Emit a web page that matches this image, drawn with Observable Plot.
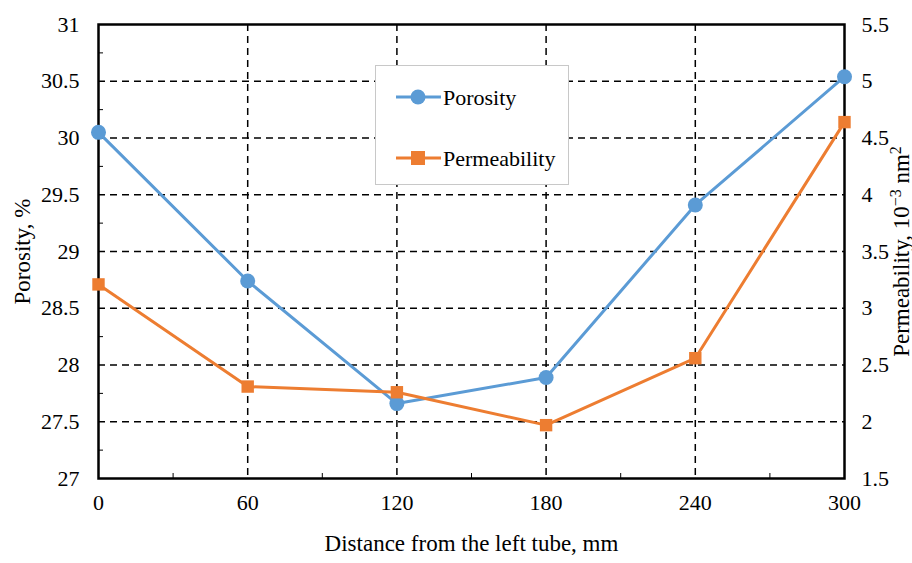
<!DOCTYPE html>
<html>
<head>
<meta charset="utf-8">
<script src="https://cdn.jsdelivr.net/npm/d3@7"></script>
<script src="https://cdn.jsdelivr.net/npm/@observablehq/plot@0.6"></script>
<style>
  html, body { margin: 0; padding: 0; background: #fff; }
  #wrap { position: relative; width: 912px; height: 563px; font-family: "Liberation Serif", "Times New Roman", serif; }
  #legend { position: absolute; left: 375px; top: 65px; width: 192px; height: 118px; border: 1.5px solid #c8c8c8; background: #fff; }
</style>
</head>
<body>
<div id="wrap"></div>
<script>
const distance = [0, 60, 120, 180, 240, 300];
const porosity = [30.05, 28.74, 27.66, 27.89, 29.41, 30.54];
const permeability = [3.21, 2.31, 2.26, 1.97, 2.56, 4.64];
const xTicks = [0, 60, 120, 180, 240, 300];
const leftTicks = [27, 27.5, 28, 28.5, 29, 29.5, 30, 30.5, 31];
const rightTicks = [1.5, 2, 2.5, 3, 3.5, 4, 4.5, 5, 5.5];
const seriesNames = ["Porosity", "Permeability"];
const colors = ["#5B9BD5", "#ED7D31"];
const xLabel = "Distance from the left tube, mm";
const yLabel = "Porosity, %";
const y2Label = "Permeability, 10⁻³ nm²";

// map permeability (right axis 1.5–5.5) onto the left axis (27–31)
const offset = leftTicks[0] - rightTicks[0];
const poroData = distance.map((d, i) => ({x: d, y: porosity[i]}));
const permData = distance.map((d, i) => ({x: d, y: permeability[i] + offset}));
const minorY = d3.range(27.25, 31, 0.5);
const minorX = d3.range(30, 300, 60);
const font = "Liberation Serif, Times New Roman, serif";

const chart = Plot.plot({
  width: 912,
  height: 563,
  marginLeft: 98,
  marginRight: 68,
  marginTop: 24,
  marginBottom: 85,
  style: {fontFamily: font, fontSize: "22px", color: "#000", background: "#fff"},
  x: {domain: [0, 300]},
  y: {domain: [27, 31]},
  marks: [
    Plot.gridY(leftTicks.slice(1, -1), {stroke: "#000", strokeOpacity: 1, strokeWidth: 1.5, strokeDasharray: "7,5"}),
    Plot.gridX(xTicks.slice(1, -1), {stroke: "#000", strokeOpacity: 1, strokeWidth: 1.5, strokeDasharray: "7,5"}),
    Plot.axisY(minorY, {anchor: "left", tickSize: -5, text: null, stroke: "#000", strokeWidth: 1, label: null}),
    Plot.axisX(minorX, {anchor: "bottom", tickSize: -5, text: null, stroke: "#000", strokeWidth: 1, label: null}),
    Plot.axisY(leftTicks, {anchor: "left", tickSize: 0, tickPadding: 19, fontSize: 22, tickFormat: d => String(d),
      label: yLabel, labelAnchor: "center", labelArrow: "none", labelOffset: 85}),
    Plot.axisY(leftTicks, {anchor: "right", tickSize: 0, tickPadding: 17, fontSize: 22, tickFormat: d => String(+(d - offset).toFixed(1)),
      label: y2Label, labelAnchor: "center", labelArrow: "none", labelOffset: 64}),
    Plot.axisX(xTicks, {anchor: "bottom", tickSize: 0, tickPadding: 16, fontSize: 22,
      label: xLabel, labelAnchor: "center", labelArrow: "none", labelOffset: 72}),
    Plot.frame({stroke: "#000", strokeWidth: 2.5}),
    Plot.line(poroData, {x: "x", y: "y", stroke: colors[0], strokeWidth: 3}),
    Plot.line(permData, {x: "x", y: "y", stroke: colors[1], strokeWidth: 3}),
    Plot.dot(poroData, {x: "x", y: "y", r: 7.5, fill: colors[0], symbol: "circle"}),
    Plot.dot(permData, {x: "x", y: "y", r: 7, fill: colors[1], symbol: "square"})
  ]
});

// label sizes and superscripts
chart.querySelectorAll("text").forEach(t => {
  const s = t.textContent;
  if (s === xLabel || s === yLabel || s === y2Label) t.setAttribute("font-size", 23);
  if (s === y2Label) {
    t.textContent = "";
    const parts = [["Permeability, 10", false], ["−3", true], [" nm", false], ["2", true]];
    for (const [p, sup] of parts) {
      const ts = document.createElementNS("http://www.w3.org/2000/svg", "tspan");
      ts.textContent = p;
      if (sup) { ts.setAttribute("baseline-shift", "super"); ts.setAttribute("font-size", "16"); }
      t.appendChild(ts);
    }
  }
});

const wrap = document.getElementById("wrap");
wrap.appendChild(chart);

// legend
const legend = document.createElement("div");
legend.id = "legend";
const ns = "http://www.w3.org/2000/svg";
const lsvg = document.createElementNS(ns, "svg");
lsvg.setAttribute("width", 192);
lsvg.setAttribute("height", 118);
seriesNames.forEach((name, i) => {
  const cy = 31 + i * 61;
  const line = document.createElementNS(ns, "line");
  line.setAttribute("x1", 20); line.setAttribute("x2", 65);
  line.setAttribute("y1", cy); line.setAttribute("y2", cy);
  line.setAttribute("stroke", colors[i]); line.setAttribute("stroke-width", 3);
  lsvg.appendChild(line);
  let m;
  if (i === 0) {
    m = document.createElementNS(ns, "circle");
    m.setAttribute("cx", 42); m.setAttribute("cy", cy); m.setAttribute("r", 7.5);
  } else {
    m = document.createElementNS(ns, "rect");
    m.setAttribute("x", 35); m.setAttribute("y", cy - 7); m.setAttribute("width", 14); m.setAttribute("height", 14);
  }
  m.setAttribute("fill", colors[i]);
  lsvg.appendChild(m);
  const tx = document.createElementNS(ns, "text");
  tx.setAttribute("x", 67); tx.setAttribute("y", cy);
  tx.setAttribute("dy", "0.35em");
  tx.setAttribute("font-size", 22);
  tx.setAttribute("font-family", font);
  tx.textContent = name;
  lsvg.appendChild(tx);
});
legend.appendChild(lsvg);
wrap.appendChild(legend);
</script>
</body>
</html>
